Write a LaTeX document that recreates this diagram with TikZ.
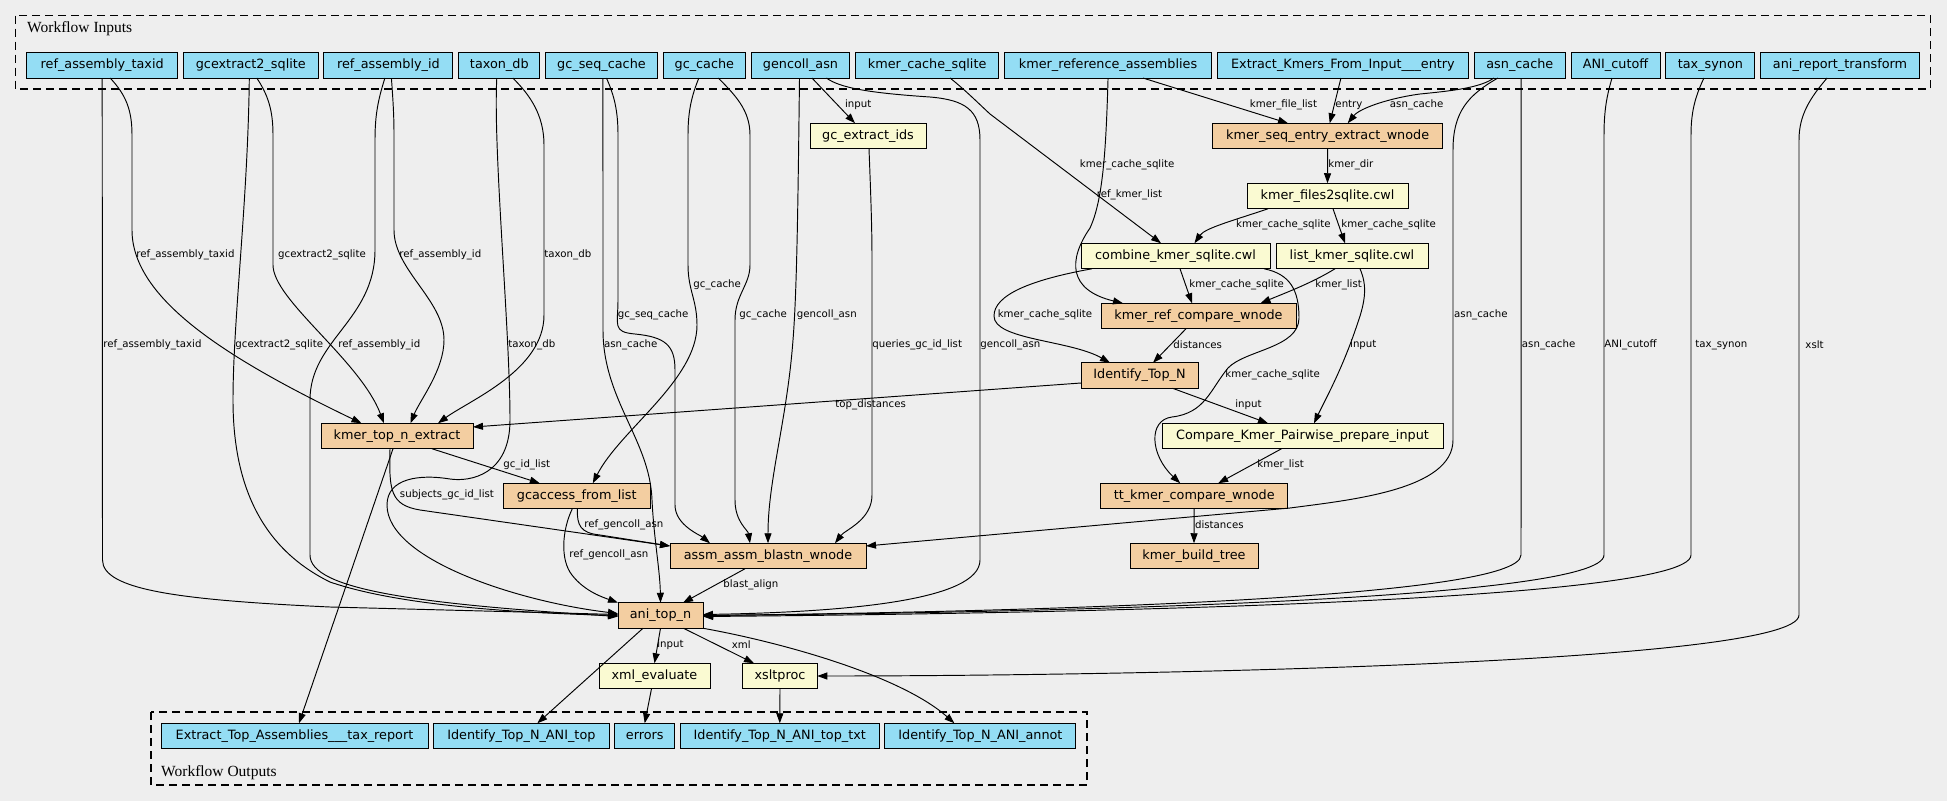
\documentclass[tikz,border=0pt]{standalone}
\usepackage{fontspec}
\setmainfont{DejaVu Sans}
\newfontfamily\clusterfont{Liberation Serif}
\usetikzlibrary{positioning,arrows.meta}
\definecolor{bggray}{HTML}{EEEEEE}
\definecolor{inblue}{HTML}{94DDF4}
\definecolor{stepfill}{HTML}{F3CEA1}
\definecolor{toolfill}{HTML}{FAFAD2}

\begin{document}
\begin{tikzpicture}
	[
	  x=1pt, y=-1pt,
	  inout/.style={draw, line width=1pt, fill=inblue, minimum height=25.5pt,
	    inner xsep=2pt, inner ysep=0pt, outer sep=0pt, font=\fontsize{12.8pt}{15pt}\selectfont},
	  wstep/.style={inout, fill=stepfill},
	  tool/.style={inout, fill=toolfill},
	  flow/.style={line width=0.95pt, -{Triangle[length=10pt,width=7pt]}},
	  elbl/.style={anchor=west, inner sep=0pt, font=\fontsize{10.2pt}{12pt}\selectfont},
	  cluster/.style={draw, line width=1.1pt, dash pattern=on 8pt off 5pt},
	  clabel/.style={anchor=base west, inner sep=0pt, font=\clusterfont\fontsize{15.5pt}{18pt}\selectfont},
	]
	\fill[bggray] (0,0) rectangle (1947,801);
	\useasboundingbox (0,0) rectangle (1947,801);
	\draw[cluster] (15.6,15.7) rectangle (1930.5,89);
	\node (inlbl) [clabel] at (27,32.7) {Workflow Inputs};
	\draw[cluster] (151,712) rectangle (1087,785);
	\node (outlbl) [clabel] at (161,776) {Workflow Outputs};

	\node (rtaxid) [inout, minimum width=151pt] at (102.2,65.3) {ref\_assembly\_taxid};
	\node (gcx) [inout, minimum width=134.4pt, right=5.9pt of rtaxid] {gcextract2\_sqlite};
	\node (rasmid) [inout, minimum width=129pt, right=5.9pt of gcx] {ref\_assembly\_id};
	\node (taxdb) [inout, minimum width=81pt, right=5.9pt of rasmid] {taxon\_db};
	\node (gcseq) [inout, minimum width=111.5pt, right=5.9pt of taxdb] {gc\_seq\_cache};
	\node (gccache) [inout, minimum width=82.5pt, right=5.9pt of gcseq] {gc\_cache};
	\node (gencoll) [inout, minimum width=98pt, right=5.9pt of gccache] {gencoll\_asn};
	\node (kcache) [inout, minimum width=143.5pt, right=5.9pt of gencoll] {kmer\_cache\_sqlite};
	\node (kref) [inout, minimum width=206.5pt, right=5.9pt of kcache] {kmer\_reference\_assemblies};
	\node (extk) [inout, minimum width=251.5pt, right=5.9pt of kref] {Extract\_Kmers\_From\_Input\_\_\_entry};
	\node (asncache) [inout, minimum width=90.5pt, right=5.9pt of extk] {asn\_cache};
	\node (anicut) [inout, minimum width=89pt, right=5.9pt of asncache] {ANI\_cutoff};
	\node (taxsyn) [inout, minimum width=89pt, right=5.9pt of anicut] {tax\_synon};
	\node (anixslt) [inout, minimum width=158.5pt, right=5.9pt of taxsyn] {ani\_report\_transform};

	\node (gcids) [tool, minimum width=116pt] at (868,136) {gc\_extract\_ids};
	\node (kseq) [wstep, minimum width=230.5pt] at (1327.7,136) {kmer\_seq\_entry\_extract\_wnode};
	\node (kfiles) [tool, minimum width=161pt] at (1327.5,196) {kmer\_files2sqlite.cwl};
	\node (kcomb) [tool, minimum width=189pt] at (1175.5,256) {combine\_kmer\_sqlite.cwl};
	\node (klist) [tool, minimum width=152pt] at (1352,256) {list\_kmer\_sqlite.cwl};
	\node (krefcmp) [wstep, minimum width=195pt] at (1198.5,316) {kmer\_ref\_compare\_wnode};
	\node (idtop) [wstep, minimum width=117pt] at (1139.5,375.5) {Identify\_Top\_N};
	\node (ktopn) [wstep, minimum width=152pt] at (397,436) {kmer\_top\_n\_extract};
	\node (cmpprep) [tool, minimum width=281pt] at (1302.5,436) {Compare\_Kmer\_Pairwise\_prepare\_input};
	\node (gcacc) [wstep, minimum width=146.4pt] at (576.8,496) {gcaccess\_from\_list};
	\node (ttcmp) [wstep, minimum width=186.5pt] at (1194.2,496) {tt\_kmer\_compare\_wnode};
	\node (blastn) [wstep, minimum width=196pt] at (768,556) {assm\_assm\_blastn\_wnode};
	\node (ktree) [wstep, minimum width=128pt] at (1194,556) {kmer\_build\_tree};
	\node (anitop) [wstep, minimum width=85pt] at (660.5,615.5) {ani\_top\_n};
	\node (xmleval) [tool, minimum width=111pt] at (654.5,676) {xml\_evaluate};
	\node (xslt) [tool, minimum width=74.5pt] at (780,676) {xsltproc};

	\node (otax) [inout, minimum width=267pt] at (294.5,736) {Extract\_Top\_Assemblies\_\_\_tax\_report};
	\node (oanitop) [inout, minimum width=175.5pt, right=5.6pt of otax] {Identify\_Top\_N\_ANI\_top};
	\node (oerr) [inout, minimum width=60pt, right=5.6pt of oanitop] {errors};
	\node (otxt) [inout, minimum width=199pt, right=5.6pt of oerr] {Identify\_Top\_N\_ANI\_top\_txt};
	\node (oannot) [inout, minimum width=191pt, right=5.6pt of otxt] {Identify\_Top\_N\_ANI\_annot};

	\draw[flow] ([xshift=8pt]rtaxid.south) .. controls (126,95) and (132,110) .. (132,135) -- (132,230)
	  .. controls (132,300) and (230,360) .. ([xshift=-35.5pt]ktopn.north)
	  node[elbl] at (136,255) {ref\_assembly\_taxid};
	\draw[flow] (rtaxid.south) -- (102.5,560) .. controls (102.5,590) and (180,600) .. (330,607)
	  -- ([yshift=1pt]anitop.west) node[elbl] at (103,345) {ref\_assembly\_taxid};
	\draw[flow] ([xshift=6pt]gcx.south) .. controls (268,95) and (273,110) .. (273,135) -- (273,265)
	  .. controls (273,300) and (360,360) .. ([xshift=-13pt]ktopn.north)
	  node[elbl] at (277.7,255) {gcextract2\_sqlite};
	\draw[flow] ([xshift=-1.5pt]gcx.south) .. controls (248,200) and (233,320) .. (233,400)
	  .. controls (233,490) and (265,550) .. (330,582) .. controls (400,606) and (520,613) .. (anitop.west)
	  node[elbl] at (235,345) {gcextract2\_sqlite};
	\draw[flow] ([xshift=3pt]rasmid.south) .. controls (393,100) and (394,115) .. (394,135) -- (394,230)
	  .. controls (394,270) and (444,300) .. (444,340) .. controls (444,370) and (420,400) .. ([xshift=13.5pt]ktopn.north)
	  node[elbl] at (399,255) {ref\_assembly\_id};
	\draw[flow] ([xshift=-3.5pt]rasmid.south) .. controls (378,100) and (375,115) .. (375,140) -- (375,250)
	  .. controls (375,320) and (310,340) .. (310,400) -- (310,555) .. controls (310,590) and (420,604) .. ([yshift=-1pt]anitop.west)
	  node[elbl] at (338,345) {ref\_assembly\_id};
	\draw[flow] ([xshift=13.5pt]taxdb.south) .. controls (530,95) and (544,115) .. (544,145) -- (544,315)
	  .. controls (544,370) and (470,400) .. ([xshift=41pt]ktopn.north)
	  node[elbl] at (544,255) {taxon\_db};
	\draw[flow] ([xshift=-2.5pt]taxdb.south) .. controls (493,150) and (510,330) .. (510,420)
	  .. controls (510,475) and (470,482) .. (450,479) .. controls (420,474) and (387,478) .. (387,505)
	  .. controls (387,560) and (520,602) .. ([yshift=2pt]anitop.west)
	  node[elbl] at (508,345) {taxon\_db};
	\draw[flow] ([xshift=5pt]gcseq.south) .. controls (614,95) and (618,110) .. (618,135) -- (618,300)
	  .. controls (618,325) and (612,332) .. (635,334) .. controls (665,337) and (675,345) .. (675,370) -- (675,505)
	  .. controls (675,525) and (700,535) .. ([xshift=-58pt]blastn.north)
	  node[elbl] at (617.4,315) {gc\_seq\_cache};
	\draw[flow] ([xshift=1.5pt]gcseq.south) -- (603,330) .. controls (603,400) and (650,440) .. (652,500)
	  .. controls (654,540) and (660,570) .. (anitop.north)
	  node[elbl] at (603.6,345) {asn\_cache};
	\draw[flow] ([xshift=-5.5pt]gccache.south) .. controls (692,95) and (688,110) .. (688,135) -- (688,265)
	  .. controls (688,290) and (697,300) .. (697,325) .. controls (697,380) and (620,430) .. ([xshift=16pt]gcacc.north)
	  node[elbl] at (693,285) {gc\_cache};
	\draw[flow] ([xshift=14pt]gccache.south) .. controls (735,95) and (750,110) .. (750,135) -- (750,265)
	  .. controls (750,285) and (735,295) .. (735,320) -- (735,500) .. controls (735,522) and (748,530) .. ([xshift=-18pt]blastn.north)
	  node[elbl] at (739,315) {gc\_cache};
	\draw[flow] ([xshift=11.5pt]gencoll.south) -- ([xshift=-13pt]gcids.north) node[elbl] at (844.6,105) {input};
	\draw[flow] ([xshift=-1pt]gencoll.south) .. controls (798,200) and (797,290) .. (793,340)
	  .. controls (787,420) and (768,480) .. (blastn.north)
	  node[elbl] at (796.4,315) {gencoll\_asn};
	\draw[flow] ([xshift=26pt]gencoll.south) .. controls (840,88) and (870,93) .. (930,97)
	  .. controls (965,100) and (980,110) .. (980,140) -- (980,560) .. controls (980,600) and (850,612) .. ([yshift=1pt]anitop.east)
	  node[elbl] at (980,345) {gencoll\_asn};
	\draw[flow] ([xshift=1pt]gcids.south) .. controls (871,200) and (872,230) .. (872,260) -- (872,495)
	  .. controls (872,520) and (845,530) .. ([xshift=67pt]blastn.north)
	  node[elbl] at (872,345) {queries\_gc\_id\_list};
	\draw[flow] ([xshift=23pt]kcache.south) .. controls (965,90) and (975,100) .. (990,114) -- ([xshift=-14.5pt]kcomb.north)
	  node[elbl] at (1079.5,165) {kmer\_cache\_sqlite};
	\draw[flow] (kref.south) .. controls (1106,150) and (1103,200) .. (1090,228)
	  .. controls (1068,260) and (1068,290) .. ([xshift=-75.5pt]krefcmp.north)
	  node[elbl] at (1096.4,195) {ref\_kmer\_list};
	\draw[flow] ([xshift=35pt]kref.south) -- ([xshift=-39.7pt]kseq.north) node[elbl] at (1249.5,105) {kmer\_file\_list};
	\draw[flow] ([xshift=-2pt]extk.south) -- ([xshift=2pt]kseq.north) node[elbl] at (1335,105) {entry};
	\draw[flow] ([xshift=-26pt]asncache.south) .. controls (1480,88) and (1450,91) .. (1420,94)
	  .. controls (1390,98) and (1360,108) .. ([xshift=20pt]kseq.north)
	  node[elbl] at (1389.5,105) {asn\_cache};
	\draw[flow] ([xshift=-22pt]asncache.south) .. controls (1468,95) and (1453,112) .. (1453,150) -- (1453,440)
	  .. controls (1453,490) and (1350,500) .. (1290,508) -- ([yshift=10pt]blastn.east)
	  node[elbl] at (1453.7,315) {asn\_cache};
	\draw[flow] ([xshift=1.3pt]asncache.south) -- (1521,555) .. controls (1521,600) and (1000,612) .. (anitop.east)
	  node[elbl] at (1521.5,345) {asn\_cache};
	\draw[flow] ([xshift=-3.5pt]anicut.south) .. controls (1607,95) and (1604,110) .. (1604,135) -- (1604,555)
	  .. controls (1604,602) and (1000,613) .. (anitop.east)
	  node[elbl] at (1604,345) {ANI\_cutoff};
	\draw[flow] ([xshift=-6.5pt]taxsyn.south) .. controls (1696,95) and (1691,110) .. (1691,135) -- (1691,555)
	  .. controls (1691,604) and (1000,614) .. ([yshift=-1pt]anitop.east)
	  node[elbl] at (1695,345) {tax\_synon};
	\draw[flow] ([xshift=-13pt]anixslt.south) .. controls (1810,98) and (1799,115) .. (1799,140) -- (1799,615)
	  .. controls (1799,665) and (1100,676) .. (xslt.east)
	  node[elbl] at (1805,345) {xslt};
	\draw[flow] (kseq.south) -- (kfiles.north) node[elbl] at (1328,165) {kmer\_dir};
	\draw[flow] ([xshift=-59.5pt]kfiles.south) .. controls (1235,220) and (1205,228) .. ([xshift=19pt]kcomb.north)
	  node[elbl] at (1235.7,225) {kmer\_cache\_sqlite};
	\draw[flow] ([xshift=5.5pt]kfiles.south) -- ([xshift=-7pt]klist.north) node[elbl] at (1341,225) {kmer\_cache\_sqlite};
	\draw[flow] ([xshift=4.5pt]kcomb.south) -- ([xshift=-6.5pt]krefcmp.north) node[elbl] at (1189,285) {kmer\_cache\_sqlite};
	\draw[flow] ([xshift=-17pt]klist.south) .. controls (1312,283) and (1285,293) .. ([xshift=62pt]krefcmp.north)
	  node[elbl] at (1315,285) {kmer\_list};
	\draw[flow] ([xshift=-83.5pt]kcomb.south) .. controls (1030,280) and (994,295) .. (994,316)
	  .. controls (994,340) and (1070,340) .. ([xshift=-29.5pt]idtop.north)
	  node[elbl] at (997.3,315) {kmer\_cache\_sqlite};
	\draw[flow] ([xshift=88.5pt]kcomb.south) .. controls (1290,274) and (1299,290) .. (1299,318)
	  .. controls (1299,348) and (1245,350) .. (1228,368) .. controls (1210,390) and (1205,413) .. (1172,417)
	  .. controls (1148,420) and (1150,455) .. ([xshift=-14pt]ttcmp.north)
	  node[elbl] at (1225,375) {kmer\_cache\_sqlite};
	\draw[flow] ([xshift=8pt]klist.south) .. controls (1367,285) and (1366,300) .. (1357,325)
	  .. controls (1342,370) and (1325,400) .. ([xshift=11.5pt]cmpprep.north)
	  node[elbl] at (1349.7,345) {input};
	\draw[flow] ([xshift=-12.5pt]krefcmp.south) -- ([xshift=13.5pt]idtop.north) node[elbl] at (1173,345) {distances};
	\draw[flow] ([yshift=-7.5pt]idtop.west) -- ([yshift=9pt]ktopn.east) node[elbl] at (835,405) {top\_distances};
	\draw[flow] ([xshift=33pt]idtop.south) -- ([xshift=-34.5pt]cmpprep.north) node[elbl] at (1234.8,405) {input};
	\draw[flow] ([xshift=-21pt]cmpprep.south) -- ([xshift=24pt]ttcmp.north) node[elbl] at (1257,465) {kmer\_list};
	\draw[flow] (ttcmp.south) -- (ktree.north) node[elbl] at (1194.6,525) {distances};
	\draw[flow] ([xshift=35pt]ktopn.south) -- ([xshift=-37pt]gcacc.north) node[elbl] at (503,465) {gc\_id\_list};
	\draw[flow] ([xshift=-7pt]ktopn.south) .. controls (389,490) and (390,505) .. (420,510) -- ([yshift=10pt]blastn.west)
	  node[elbl] at (399.5,495) {subjects\_gc\_id\_list};
	\draw[flow] ([xshift=0.5pt]gcacc.south) .. controls (577,525) and (580,533) .. (600,535) -- ([yshift=10pt]blastn.west)
	  node[elbl] at (584,525) {ref\_gencoll\_asn};
	\draw[flow] ([xshift=-4.5pt]gcacc.south) .. controls (562,530) and (560,560) .. (572,575)
	  .. controls (585,592) and (605,598) .. (anitop.north west)
	  node[elbl] at (569,555) {ref\_gencoll\_asn};
	\draw[flow] ([xshift=-23pt]blastn.south) -- ([xshift=22.5pt]anitop.north) node[elbl] at (723,585) {blast\_align};
	\draw[flow] ([xshift=-4pt]ktopn.south) -- ([xshift=4.5pt]otax.north);
	\draw[flow] (anitop.south) -- (xmleval.north) node[elbl] at (656.8,645) {input};
	\draw[flow] ([xshift=23pt]anitop.south) -- ([xshift=-26pt]xslt.north) node[elbl] at (731.4,645) {xml};
	\draw[flow] ([xshift=-17.5pt]anitop.south) -- ([xshift=16pt]oanitop.north);
	\draw[flow] (anitop.south east) .. controls (780,642) and (900,675) .. ([xshift=-26pt]oannot.north);
	\draw[flow] ([xshift=-3pt]xmleval.south) -- (oerr.north);
	\draw[flow] (xslt.south) -- (otxt.north);
\end{tikzpicture}
\end{document}
